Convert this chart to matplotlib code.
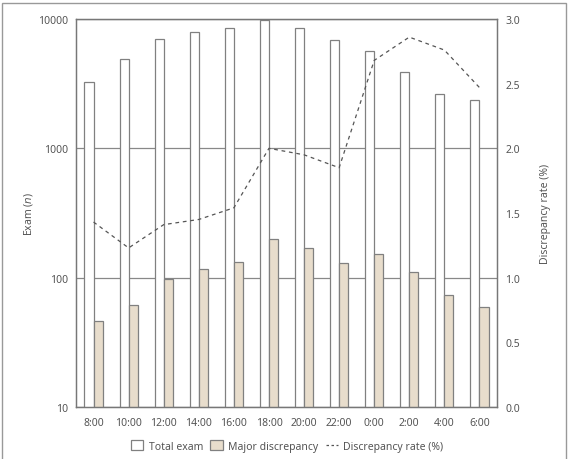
import matplotlib
matplotlib.use("Agg")
import matplotlib.pyplot as plt
import numpy as np
from matplotlib.patches import Rectangle, Patch
from matplotlib.lines import Line2D
from matplotlib.ticker import FixedLocator, FixedFormatter, NullLocator

categories = ["8:00", "10:00", "12:00", "14:00", "16:00", "18:00",
              "20:00", "22:00", "0:00", "2:00", "4:00", "6:00"]
total_exam = [3240, 4910, 6970, 7980, 8470, 9880, 8570, 6920, 5650, 3870, 2620, 2370]
major_disc = [46, 61, 98, 117, 132, 199, 169, 129, 153, 111, 73, 59]
disc_rate = [1.43, 1.23, 1.41, 1.45, 1.54, 2.00, 1.95, 1.85, 2.68, 2.86, 2.76, 2.47]
left_ticks = [10, 100, 1000, 10000]
right_ticks = [0.0, 0.5, 1.0, 1.5, 2.0, 2.5, 3.0]

plt.rcParams['font.family'] = ['Noto Sans', 'DejaVu Sans']
txt = '#555555'
edge = '#808080'
beige = '#e8ddcc'

fig = plt.figure(figsize=(5.72, 4.6), dpi=100)
fig.patches.append(Rectangle((2/572, -0.01), 564/572, 1 - 4/460 + 0.01, transform=fig.transFigure,
                             fill=False, edgecolor='#999999', linewidth=1.0))
ax = fig.add_axes([76/572, 1 - 408/460, 421/572, 388/460])
x = np.arange(len(categories))
w = 0.26
ax.set_yscale('log')
ax.bar(x - w/2, total_exam, width=w, color='white', edgecolor=edge, linewidth=0.9, zorder=2)
ax.bar(x + w/2, major_disc, width=w, color=beige, edgecolor=edge, linewidth=0.9, zorder=2)
ax.set_ylim(10, 10000)
ax.set_xlim(-0.5, len(categories) - 0.5)
ax.yaxis.set_major_locator(FixedLocator(left_ticks))
ax.yaxis.set_major_formatter(FixedFormatter([str(t) for t in left_ticks]))
ax.yaxis.set_minor_locator(NullLocator())
ax.set_xticks(x)
ax.set_xticklabels(categories)
ax.yaxis.grid(True, color='#888888', linewidth=0.9)
ax.set_axisbelow(True)
ax.tick_params(axis='both', length=0, labelsize=7.5, colors=txt)
ax.tick_params(axis='x', pad=7)
ax.tick_params(axis='y', pad=6)
for s in ax.spines.values():
    s.set_color('#777777')
    s.set_linewidth(0.9)
ax.set_ylabel('Exam ($\\mathit{n}$)', fontsize=7.5, color=txt, labelpad=2)

ax2 = ax.twinx()
ax2.plot(x, disc_rate, linestyle=(0, (3, 3)), color='#555555', linewidth=0.9, zorder=3)
ax2.set_ylim(0, 3.0)
ax2.set_yticks(right_ticks)
ax2.set_yticklabels([f"{t:.1f}" for t in right_ticks])
ax2.tick_params(axis='y', length=0, labelsize=7.5, colors=txt, pad=6)
for s in ax2.spines.values():
    s.set_color('#777777')
    s.set_linewidth(0.9)
ax2.set_ylabel('Discrepancy rate (%)', fontsize=7.5, color=txt, labelpad=14)

handles = [Patch(facecolor='white', edgecolor=edge, linewidth=0.9),
           Patch(facecolor=beige, edgecolor=edge, linewidth=0.9),
           Line2D([], [], linestyle=(0, (2, 2)), color='#555555', linewidth=0.9)]
labels = ['Total exam', 'Major discrepancy', 'Discrepancy rate (%)']
leg = fig.legend(handles, labels, loc='center', bbox_to_anchor=(0.502, 1 - 447/460), ncol=3,
                 frameon=False, fontsize=7.5, handlelength=1.2, handleheight=1.0,
                 handletextpad=0.5, columnspacing=0.7, labelcolor=txt)

fig.savefig('out.png', dpi=100)
